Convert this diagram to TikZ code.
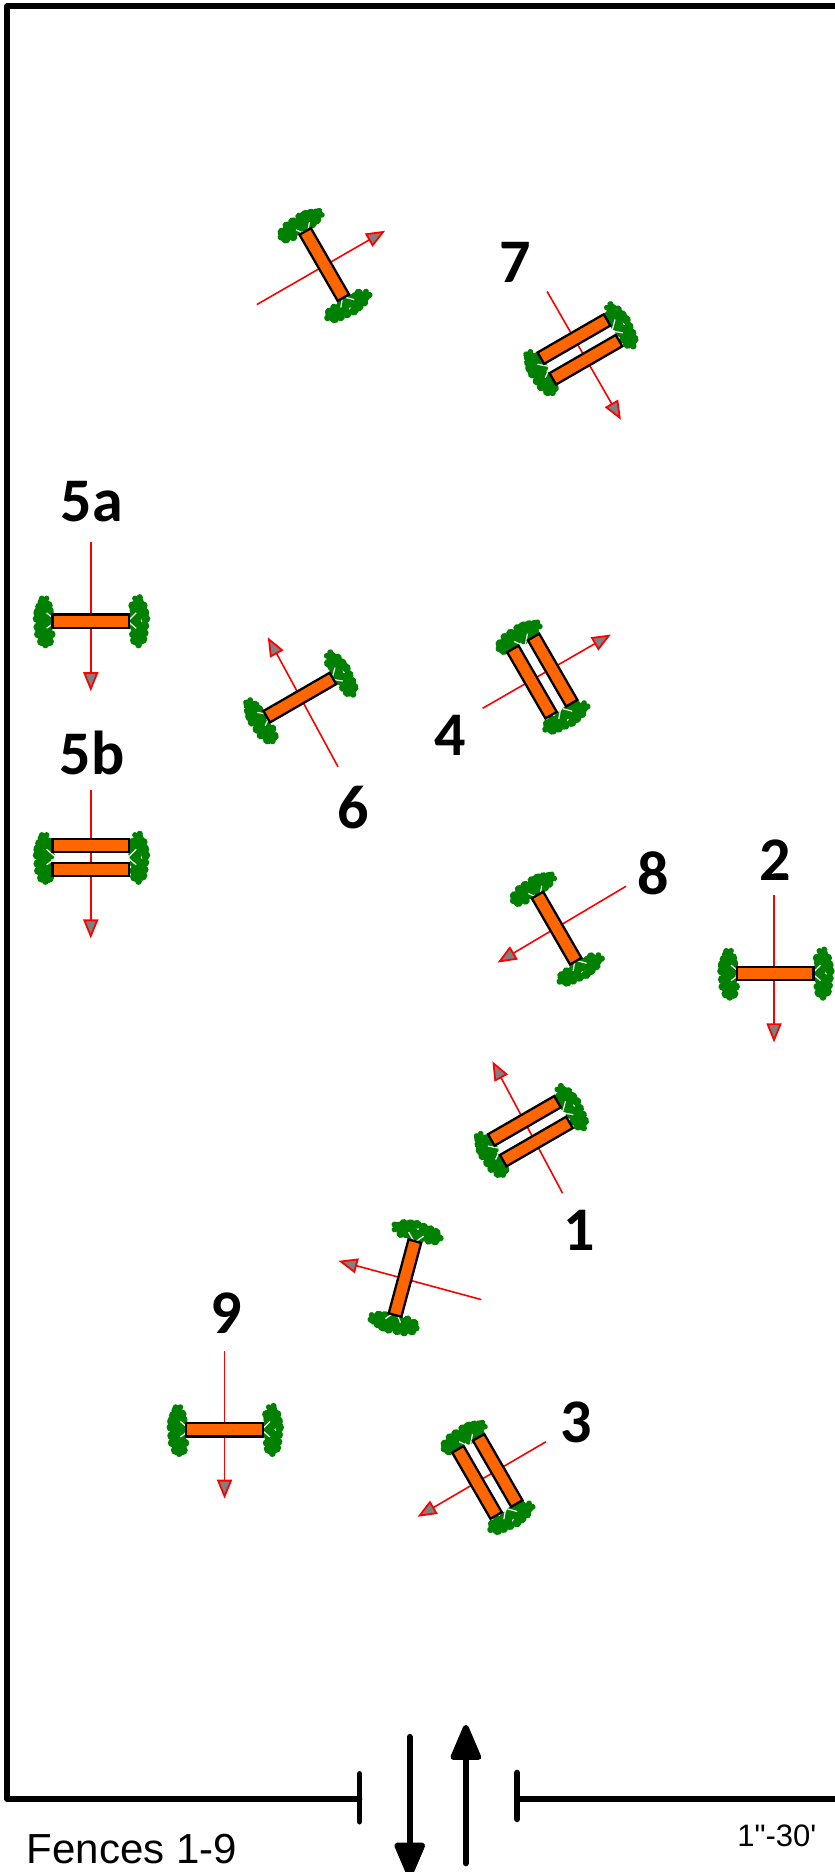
\documentclass[tikz,border=0pt]{standalone}
\usepackage{fontspec}
\setmainfont{Liberation Sans}
\newfontfamily\plainfont{Liberation Sans}
\newfontfamily\numfont{Carlito}
\usetikzlibrary{arrows.meta}
\definecolor{bushgreen}{RGB}{0,128,0}
\definecolor{fenceorange}{RGB}{255,102,0}
\tikzset{
  x=0.597pt,y=-0.597pt,
  wall/.style={line width=2.9pt,line cap=round,line join=round},
  traffic/.style={line width=2.9pt,line cap=round,-{Triangle[length=20pt,width=16pt,round]}},
  rail/.style={draw=black,fill=fenceorange,line width=1.15pt},
  path/.style={draw=red,line width=0.8pt,shorten >=-1pt,-{Triangle[length=9.5pt,width=7.5pt,fill=gray,line width=0.9pt]}},
  num/.style={font=\numfont\bfseries\fontsize{31}{31}\selectfont,text=black,inner sep=0pt},
  gap/.style={draw=white,line width=0.6pt},
}
\newcommand{\leftbush}{%
  \foreach \a/\b/\r in {-40/-16/4.6,-43/-12/3.6,-36/-13/4.2,-43/-7/5,-36/-8/5,-45/-2/3.6,-40/-1/6,-34/-2/4,-44/5/4,-38/6/6,-44/11/3.5,-38/12/6,-33/11/3.5,-41/17/4,-35/17/4.2,-38/20/2.8,-41/-19/2.4,-37/-19/2.4}
    {\fill[bushgreen] (\a,\b) circle[radius=\r];}%
  \draw[gap] (-37,-7) -- (-30,-1) (-37,6) -- (-30,1);%
}
\newcommand{\rightbush}{%
  \foreach \a/\b/\r in {40/-16/4.6,35/-13/3.6,44/-13/3.6,38/-9/5.5,44/-7/4.8,37/-3/5.5,46/-2/3.8,38/4/5.5,45/4/4,39/10/5.5,45/10/3.4,35/11/3,37/16/4.2,43/15/4.4,40/20/2.8,41/-20/2.6,37/-19/2.4}
    {\fill[bushgreen] (\a,\b) circle[radius=\r];}%
  \draw[gap] (38,-7) -- (32,-1) (38,6) -- (32,1);%
}
% single fence: x, y, rotation
\newcommand{\fenceone}[3]{%
  \begin{scope}[shift={(#1,#2)},rotate=#3]
    \leftbush\rightbush
    \draw[rail] (-32,-5.5) rectangle (32,5.5);
  \end{scope}}
% double fence: x, y, rotation
\newcommand{\fencetwo}[3]{%
  \begin{scope}[shift={(#1,#2)},rotate=#3]
    \leftbush\rightbush
    \draw[rail] (-32,-15.5) rectangle (32,-4.5);
    \draw[rail] (-32,4.5) rectangle (32,15.5);
  \end{scope}}
\begin{document}
\begin{tikzpicture}
\useasboundingbox[clip] (0,0) rectangle (699,1567.2);
\fill[white] (0,0) rectangle (699,1567.2);
% site outline
\coordinate (wallTR) at (705,5);
\coordinate (wallTL) at (6,5);
\coordinate (wallBL) at (6,1506);
\coordinate (wallGateL) at (301,1506);
\coordinate (wallGateR) at (433,1506);
\coordinate (wallBR) at (705,1506);
\draw[wall] (wallTR) -- (wallTL) -- (wallBL) -- (wallGateL);
\draw[wall] (wallGateR) -- (wallBR);
\draw[wall] (301,1485) -- (301,1525);
\draw[wall] (433,1484) -- (433,1523);
% gate traffic
\coordinate (outS) at (343,1454);
\coordinate (outE) at (343,1572);
\coordinate (inS) at (390,1560);
\coordinate (inE) at (390,1444);
\draw[traffic] (outS) -- (outE);
\draw[traffic] (inS) -- (inE);
% jump approach arrows
\draw[path] (215,255) -- (321,194);
\draw[path] (458,244) -- (519,350);
\draw[path] (76,454) -- (76,577);
\draw[path] (76,661) -- (76,784);
\draw[path] (283,642) -- (225,535);
\draw[path] (404,593) -- (510,532);
\draw[path] (524,742) -- (418,805);
\draw[path] (648,749) -- (648,871);
\draw[path] (471,999) -- (413,890);
\draw[path] (403,1088) -- (285,1056);
\draw[path] (188,1131) -- (188,1253);
\draw[path] (457,1207) -- (351,1269);
% fences
\fenceone{271.5}{221.5}{-60}
\fencetwo{485.5}{292.5}{30}
\fenceone{76}{520}{0}
\fencetwo{76}{718}{0}
\fenceone{251}{584}{30}
\fencetwo{454}{566}{-60}
\fenceone{466}{777}{-60}
\fenceone{649}{815}{0}
\fencetwo{444}{947}{30}
\fenceone{339}{1070}{75}
\fenceone{188}{1197}{0}
\fencetwo{408}{1236}{-60}
% labels
\node[num] (n7) at (431,220) {7};
\node[num] (n5a) at (77,420) {5a};
\node[num] (n5b) at (77,630) {5b};
\node[num] (n6) at (296,676) {6};
\node[num] (n4) at (377,616) {4};
\node[num] (n8) at (547,731) {8};
\node[num] (n2) at (649,720) {2};
\node[num] (n1) at (485,1030) {1};
\node[num] (n9) at (189,1099) {9};
\node[num] (n3) at (482,1191) {3};
\node[anchor=west,inner sep=0pt,font=\plainfont\fontsize{21}{22}\selectfont] (title) at (22,1548) {Fences 1-9};
\node[anchor=west,inner sep=0pt,font=\plainfont\fontsize{15.5}{16}\selectfont] (scale) at (617,1537) {1"-30'};
\end{tikzpicture}
\end{document}
